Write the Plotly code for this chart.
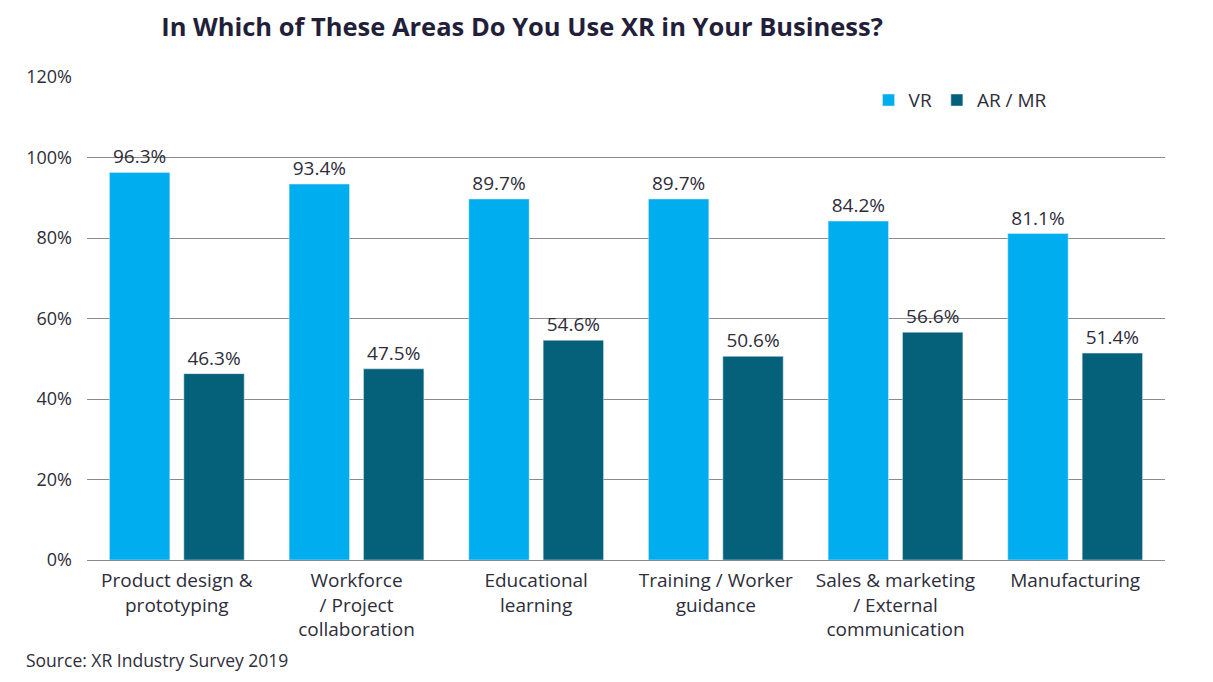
import plotly.graph_objects as go

categories = [
    "Product design &<br>prototyping",
    "Workforce<br>/ Project<br>collaboration",
    "Educational<br>learning",
    "Training / Worker<br>guidance",
    "Sales & marketing<br>/ External<br>communication",
    "Manufacturing",
]
vr_values = [96.3, 93.4, 89.7, 89.7, 84.2, 81.1]
ar_values = [46.3, 47.5, 54.6, 50.6, 56.6, 51.4]

FONT = "Open Sans"
TXT = "#2E2D3A"

fig = go.Figure()
fig.add_trace(go.Bar(
    x=categories, y=vr_values, name="VR", marker_color="#00AEEF",
    text=[f"{v:.1f}%" for v in vr_values], textposition="outside",
    textfont=dict(size=19, color=TXT, family=FONT), cliponaxis=False,
))
fig.add_trace(go.Bar(
    x=categories, y=ar_values, name="AR / MR", marker_color="#05617A",
    text=[f"{v:.1f}%" for v in ar_values], textposition="outside",
    textfont=dict(size=19, color=TXT, family=FONT), cliponaxis=False,
))

fig.update_layout(
    width=1205, height=674,
    paper_bgcolor="white", plot_bgcolor="white",
    font=dict(family=FONT, color=TXT, size=18),
    barmode="group", bargap=0.172, bargroupgap=0.188,
    margin=dict(l=79, r=48, t=69, b=122, autoexpand=False),
    title=dict(text="<b>In Which of These Areas Do You Use XR in Your Business?</b>",
               x=0.4266, xanchor="center", y=0.971, yanchor="middle",
               font=dict(size=25.5, color="#231F3A", family=FONT)),
    legend=dict(orientation="h", x=0.725, y=0.952, xanchor="left", yanchor="middle",
                font=dict(size=19, color=TXT), bgcolor="rgba(0,0,0,0)",
                itemwidth=30, traceorder="normal"),
    showlegend=True,
)
fig.update_yaxes(range=[0, 120], dtick=20, ticksuffix="%", showgrid=True,
                 gridcolor="#8a8a8a", gridwidth=1, zeroline=True, zerolinecolor="#8a8a8a",
                 zerolinewidth=1, tickfont=dict(size=18, color=TXT), ticks="", ticklen=0,
                 ticklabelstandoff=14, fixedrange=True)
fig.update_xaxes(showline=False, ticks="", tickfont=dict(size=19, color=TXT),
                 ticklabelstandoff=7)

fig.add_annotation(text="Source: XR Industry Survey 2019", xref="paper", yref="paper",
                   x=-0.0585, y=-0.207, xanchor="left", yanchor="middle", showarrow=False,
                   font=dict(size=17.5, color=TXT, family=FONT))

fig.write_html("out.html")
